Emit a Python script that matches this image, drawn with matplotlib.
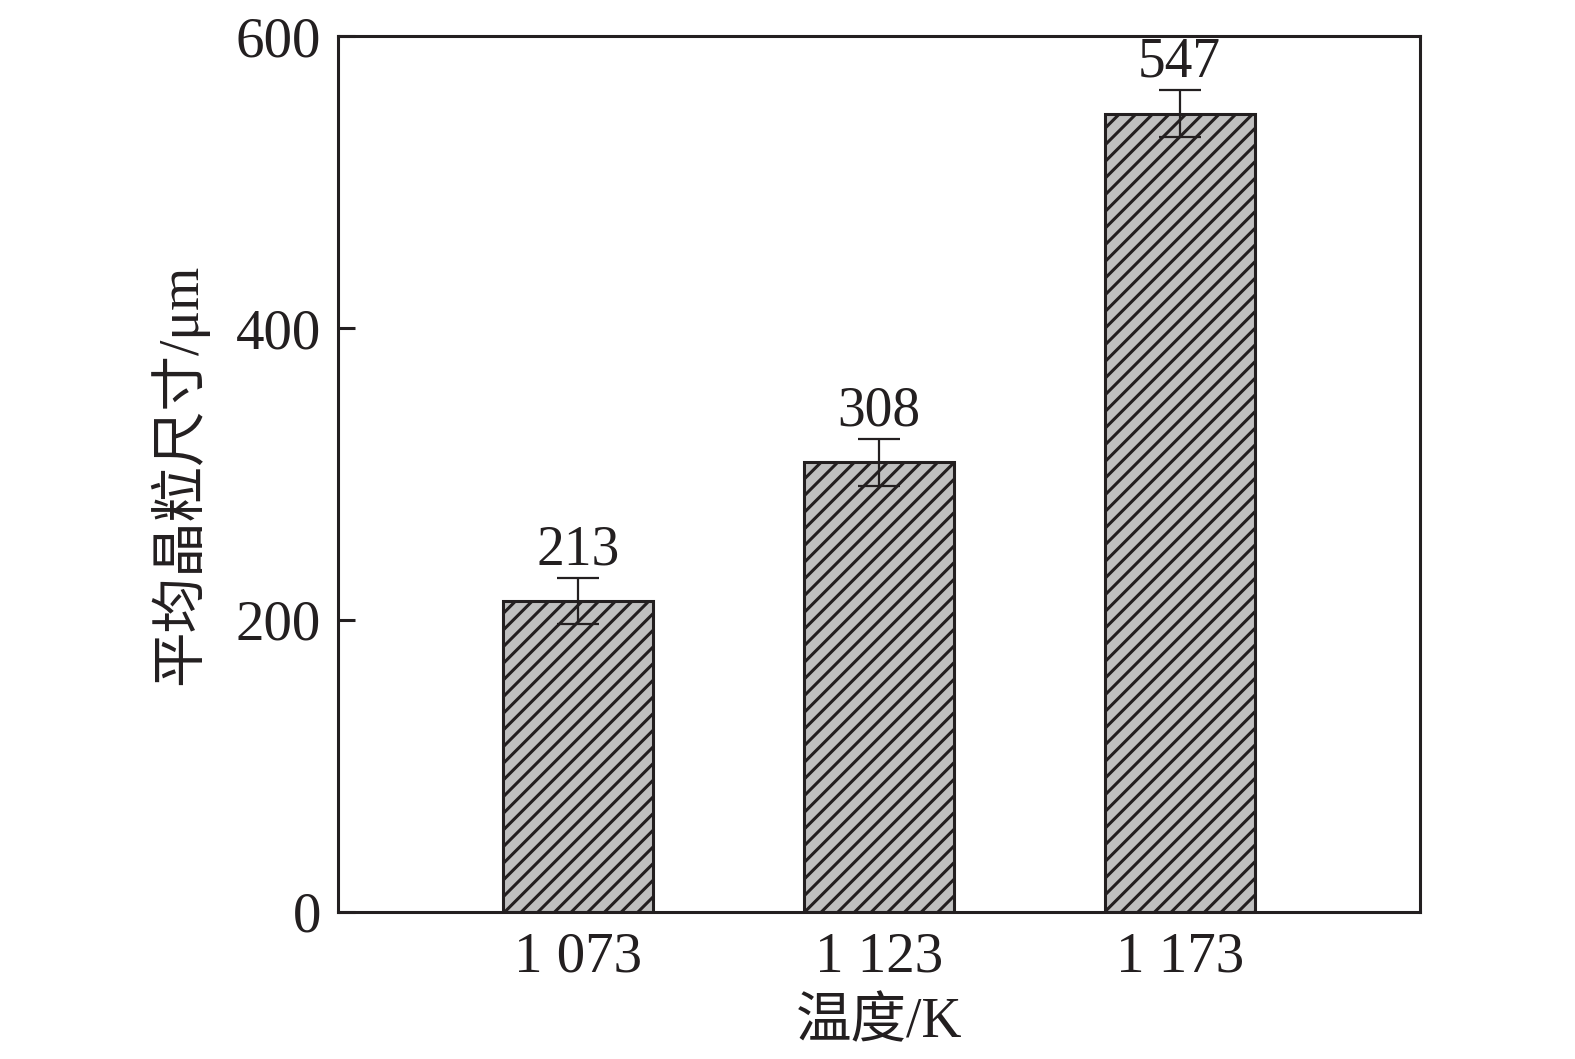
import numpy as np
import matplotlib
matplotlib.use("Agg")
import matplotlib.pyplot as plt

# 字体：西文用 Times 风格，中文回退到 Noto Sans CJK
plt.rcParams['font.family'] = ['Liberation Serif', 'Noto Sans CJK SC']
plt.rcParams['hatch.linewidth'] = 2.2
plt.rcParams['hatch.color'] = '#231f20'

# 数据
temps = ["1 073", "1 123", "1 173"]
grain_size = [213, 308, 547]
grain_err = [16, 16, 16]

EDGE = '#231f20'

fig = plt.figure(figsize=(15.75, 10.59), dpi=100)
ax = fig.add_axes([0.2143, 0.1391, 0.6875, 0.8267])

x = np.arange(len(temps))
ax.bar(x, grain_size, width=0.5, color='#c0c0c0', edgecolor=EDGE,
       linewidth=2.2, hatch='//', zorder=2)
ax.errorbar(x, grain_size, yerr=grain_err, fmt='none', ecolor=EDGE,
            elinewidth=1.6, capsize=15, capthick=1.6, zorder=3)

# 柱顶数值
for xi, v, e in zip(x, grain_size, grain_err):
    ax.annotate(str(v), (xi, v + e), xytext=(0, 1), textcoords='offset points',
                ha='center', va='bottom', fontsize=40, color=EDGE)

ax.set_xlim(-0.8, 2.8)
ax.set_ylim(0, 600)
ax.set_yticks([0, 200, 400, 600])
ax.set_xticks(x)
ax.set_xticklabels(temps)

ax.tick_params(axis='both', direction='in', labelsize=41, colors=EDGE,
               labelcolor=EDGE, width=2.2)
ax.tick_params(axis='y', length=12, pad=12)
ax.tick_params(axis='x', length=6, pad=14)

for sp in ax.spines.values():
    sp.set_linewidth(2.2)
    sp.set_color(EDGE)

ax.set_xlabel("温度/K", fontsize=40, color=EDGE, labelpad=10)
ax.set_ylabel("平均晶粒尺寸/μm", fontsize=40, color=EDGE, labelpad=20)

fig.savefig("out.png", dpi=100)
